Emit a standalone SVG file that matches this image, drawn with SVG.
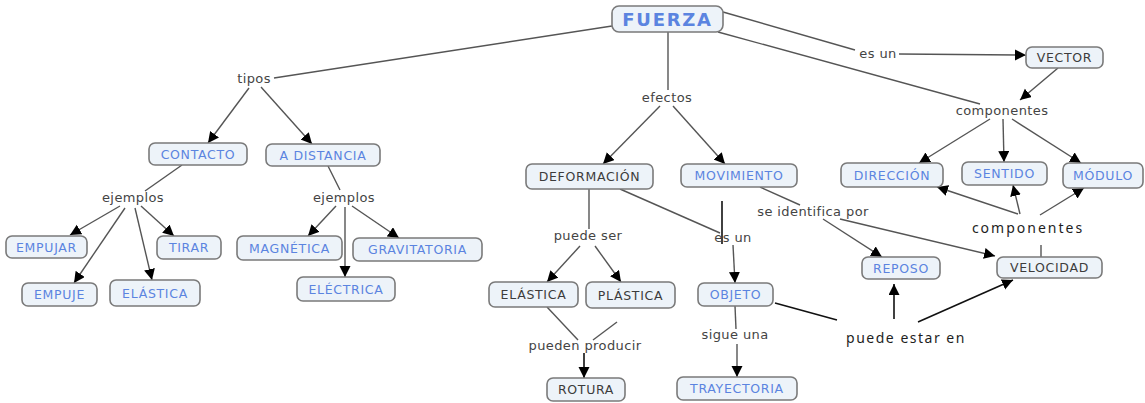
<svg xmlns="http://www.w3.org/2000/svg" width="1145" height="403" viewBox="0 0 1145 403">
<style>
.n rect{fill:#edf3f9;stroke:#7a7a7a;stroke-width:1.6}
.n text{font-family:"DejaVu Sans",Verdana,sans-serif;font-size:12.5px;letter-spacing:0.7px;text-anchor:middle}
.b text{fill:#5b84e0}
.d text{fill:#3c3c3c}
.lbl{font-family:"DejaVu Sans",Verdana,sans-serif;font-size:13px;letter-spacing:0.4px;fill:#444;text-anchor:middle}
.lbl2{font-family:"Noto Sans","Open Sans",sans-serif;font-size:14px;fill:#1e1e1e;text-anchor:middle}
#connectors line{stroke:#555;stroke-width:1.4;fill:none}
#connectors line.a{marker-end:url(#arr)}
#connectors line.k{stroke:#111;stroke-width:1.6}
</style>
<defs>
<marker id="arr" markerUnits="userSpaceOnUse" markerWidth="12" markerHeight="12" refX="11" refY="5.5" orient="auto">
<path d="M0,0 L11,5.5 L0,11 z" fill="#000"/>
</marker>
</defs>
<rect width="1145" height="403" fill="#fff"/>
<g id="connectors">
<line x1="612" y1="26" x2="274" y2="78"/>
<line class="a" x1="249" y1="88" x2="208" y2="143"/>
<line class="a" x1="261" y1="87" x2="312" y2="144"/>
<line x1="182" y1="165" x2="145" y2="191"/>
<line class="a" x1="120" y1="206" x2="70" y2="235"/>
<line class="a" x1="125" y1="208" x2="74" y2="283"/>
<line class="a" x1="135" y1="208" x2="152" y2="280"/>
<line class="a" x1="141" y1="206" x2="174" y2="236"/>
<line x1="328" y1="166" x2="340" y2="190"/>
<line class="a" x1="336" y1="206" x2="308" y2="236"/>
<line class="a" x1="345" y1="207" x2="345" y2="277"/>
<line class="a" x1="352" y1="206" x2="399" y2="238"/>
<line x1="668" y1="32" x2="668" y2="90"/>
<line class="a" x1="660" y1="106" x2="603" y2="164"/>
<line class="a" x1="673" y1="106" x2="725" y2="164"/>
<line x1="723" y1="12" x2="855" y2="50"/>
<line class="a" x1="899" y1="54" x2="1026" y2="55"/>
<line x1="718" y1="32" x2="980" y2="104"/>
<line class="a" x1="1058" y1="68" x2="1020" y2="100"/>
<line class="a" x1="990" y1="119" x2="919" y2="163"/>
<line class="a" x1="1003" y1="119" x2="1004" y2="162"/>
<line class="a" x1="1012" y1="119" x2="1081" y2="163"/>
<line class="a" x1="1018" y1="214" x2="937" y2="187"/>
<line class="a" x1="1020" y1="214" x2="1013" y2="185"/>
<line class="a" x1="1040" y1="215" x2="1084" y2="188"/>
<line x1="1041" y1="245" x2="1041" y2="257"/>
<line x1="589" y1="189" x2="589" y2="229"/>
<line class="a" x1="580" y1="246" x2="547" y2="282"/>
<line class="a" x1="595" y1="246" x2="621" y2="282"/>
<line x1="547" y1="307" x2="578" y2="340"/>
<line x1="617" y1="322" x2="593" y2="340"/>
<line class="a k" x1="584" y1="353" x2="584" y2="378"/>
<line x1="620" y1="189" x2="720" y2="233"/>
<line class="k" x1="722" y1="201" x2="722" y2="244"/>
<line class="a" x1="733" y1="245" x2="735" y2="283"/>
<line x1="735" y1="306" x2="736" y2="329"/>
<line class="a" x1="737" y1="344" x2="737" y2="377"/>
<line x1="760" y1="187" x2="800" y2="205"/>
<line class="a" x1="823" y1="219" x2="882" y2="257"/>
<line class="a" x1="840" y1="219" x2="995" y2="256"/>
<line class="k" x1="775" y1="303" x2="837" y2="320"/>
<line class="a k" x1="894" y1="319" x2="894" y2="284"/>
<line class="a k" x1="918" y1="322" x2="1013" y2="280"/>
</g>
<g id="labels">
<text class="lbl" x="254" y="83">tipos</text>
<text class="lbl" x="133" y="202">ejemplos</text>
<text class="lbl" x="344" y="202">ejemplos</text>
<text class="lbl" x="667" y="102">efectos</text>
<text class="lbl" x="878" y="58">es un</text>
<text class="lbl" x="1002" y="115">componentes</text>
<text class="lbl" x="588" y="240">puede ser</text>
<text class="lbl" x="585" y="350">pueden producir</text>
<text class="lbl" x="733" y="242">es un</text>
<text class="lbl" x="735" y="339">sigue una</text>
<text class="lbl" x="813" y="216">se identifica por</text>
<text class="lbl2" x="1028" y="233" style="letter-spacing:2px">componentes</text>
<text class="lbl2" x="906" y="343" style="letter-spacing:1.5px">puede estar en</text>
</g>
<g id="n-fuerza" class="n b"><rect x="612" y="6" width="111" height="26" rx="7"/><text x="667.5" y="25.5" style="font-size:18px;font-weight:bold;letter-spacing:1.7px">FUERZA</text></g>
<g id="n-contacto" class="n b"><rect x="149" y="143" width="98" height="22" rx="6"/><text x="198" y="158.5">CONTACTO</text></g>
<g id="n-adistancia" class="n b"><rect x="266" y="144" width="114" height="22" rx="6"/><text x="323" y="159.5">A DISTANCIA</text></g>
<g id="n-empujar" class="n b"><rect x="6" y="236" width="81" height="22" rx="6"/><text x="46.5" y="251.5">EMPUJAR</text></g>
<g id="n-tirar" class="n b"><rect x="157" y="236" width="64" height="23" rx="6"/><text x="189" y="252">TIRAR</text></g>
<g id="n-empuje" class="n b"><rect x="22" y="283" width="75" height="23" rx="6"/><text x="59.5" y="299">EMPUJE</text></g>
<g id="n-elastica1" class="n b"><rect x="110" y="280" width="90" height="26" rx="6"/><text x="155" y="297.5">ELÁSTICA</text></g>
<g id="n-magnetica" class="n b"><rect x="237" y="236" width="105" height="24" rx="6"/><text x="289.5" y="252.5">MAGNÉTICA</text></g>
<g id="n-gravitatoria" class="n b"><rect x="353" y="238" width="129" height="23" rx="6"/><text x="417.5" y="254">GRAVITATORIA</text></g>
<g id="n-electrica" class="n b"><rect x="297" y="277" width="98" height="24" rx="6"/><text x="346" y="293.5">ELÉCTRICA</text></g>
<g id="n-deformacion" class="n d"><rect x="526" y="164" width="127" height="25" rx="6"/><text x="589.5" y="181">DEFORMACIÓN</text></g>
<g id="n-movimiento" class="n b"><rect x="681" y="164" width="116" height="23" rx="6"/><text x="739" y="180">MOVIMIENTO</text></g>
<g id="n-vector" class="n d"><rect x="1026" y="47" width="77" height="21" rx="6"/><text x="1064.5" y="62">VECTOR</text></g>
<g id="n-direccion" class="n b"><rect x="841" y="163" width="102" height="24" rx="6"/><text x="892" y="179.5">DIRECCIÓN</text></g>
<g id="n-sentido" class="n b"><rect x="962" y="162" width="85" height="23" rx="6"/><text x="1004.5" y="178">SENTIDO</text></g>
<g id="n-modulo" class="n b"><rect x="1063" y="163" width="80" height="25" rx="6"/><text x="1103" y="180">MÓDULO</text></g>
<g id="n-elastica2" class="n d"><rect x="489" y="282" width="89" height="25" rx="6"/><text x="533.5" y="299">ELÁSTICA</text></g>
<g id="n-plastica" class="n d"><rect x="586" y="282" width="89" height="26" rx="6"/><text x="630.5" y="299.5">PLÁSTICA</text></g>
<g id="n-rotura" class="n d"><rect x="547" y="378" width="78" height="23" rx="6"/><text x="586" y="394">ROTURA</text></g>
<g id="n-objeto" class="n b"><rect x="698" y="283" width="75" height="23" rx="6"/><text x="735.5" y="299">OBJETO</text></g>
<g id="n-trayectoria" class="n b"><rect x="677" y="377" width="120" height="23" rx="6"/><text x="737" y="393">TRAYECTORIA</text></g>
<g id="n-reposo" class="n b"><rect x="862" y="257" width="78" height="22" rx="6"/><text x="901" y="272.5">REPOSO</text></g>
<g id="n-velocidad" class="n d"><rect x="997" y="257" width="105" height="21" rx="6"/><text x="1049.5" y="272">VELOCIDAD</text></g>
</svg>
